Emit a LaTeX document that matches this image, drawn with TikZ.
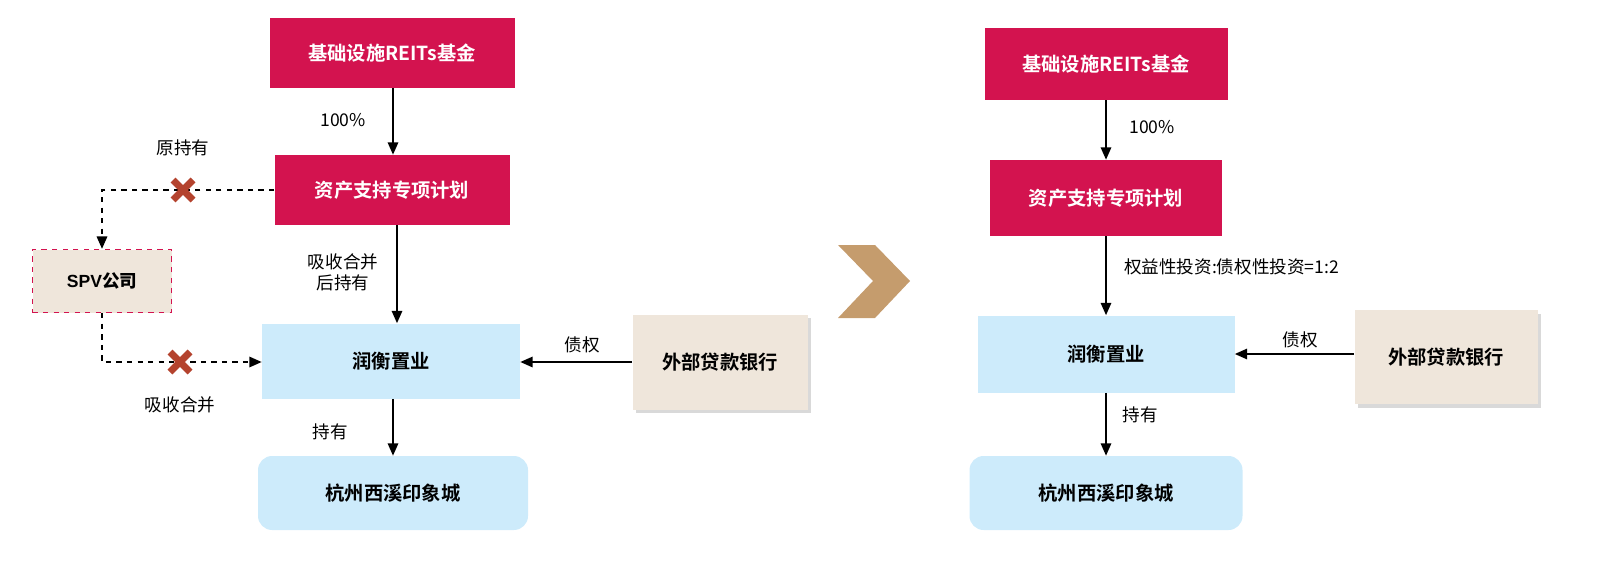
\documentclass[tikz,border=0pt]{standalone}
\usepackage{fontspec}
\setmainfont{Liberation Sans}
\newfontfamily\cjk{Noto Sans CJK SC}
\newfontfamily\cjkb{Noto Sans CJK SC Bold}
\usetikzlibrary{arrows.meta,shadows}
\definecolor{crim}{HTML}{D3134F}
\definecolor{lblue}{HTML}{CDEBFB}
\definecolor{beige}{HTML}{EFE6DB}
\definecolor{tan}{HTML}{C59C6D}
\definecolor{xred}{HTML}{B4432E}
\begin{document}
\begin{tikzpicture}[x=0.02cm,y=-0.02cm,
 red/.style={fill=crim,text=white,font=\cjkb\fontsize{11}{13}\selectfont,inner sep=0},
 blue/.style={fill=lblue,text=black,font=\cjkb\fontsize{11}{13}\selectfont,inner sep=0},
 bank/.style={fill=beige,text=black,font=\cjkb\fontsize{11}{13}\selectfont,inner sep=0,drop shadow={opacity=0.3,shadow xshift=2pt,shadow yshift=-2pt}},
 lab/.style={font=\cjk\fontsize{10}{12}\selectfont,align=center},
 arr/.style={-{Triangle[length=7pt,width=6pt]},line width=0.8pt},
 darr/.style={-{Triangle[length=7pt,width=6pt]},line width=0.8pt,dashed}]
\newcommand{\xmark}[2]{\draw[xred,line width=4pt] (#1-10,#2-10)--(#1+10,#2+10) (#1-10,#2+10)--(#1+10,#2-10);}
% left
\node[red,minimum width=245*0.02cm,minimum height=70*0.02cm] (r1) at (392,53) {基础设施REITs基金};
\node[red,minimum width=235*0.02cm,minimum height=70*0.02cm] (a1) at (392,190) {资产支持专项计划};
\node[fill=beige,draw=crim,dashed,line width=0.8pt,minimum width=139*0.02cm,minimum height=63*0.02cm,font=\bfseries\fontsize{10}{12}\selectfont,inner sep=0] (spv) at (102,281) {SPV{\cjkb 公司}};
\node[blue,minimum width=258*0.02cm,minimum height=75*0.02cm] (h1) at (391,361) {润衡置业};
\node[bank,minimum width=175*0.02cm,minimum height=95*0.02cm] (b1) at (720,362) {外部贷款银行};
\node[blue,rounded corners=8pt,minimum width=270*0.02cm,minimum height=74*0.02cm] (c1) at (393,493) {杭州西溪印象城};
\draw[arr] (r1.south -| 393,0) -- (a1.north -| 393,0);
\node[lab] (l1) at (343,120) {100\%};
\draw[arr] (a1.south -| 397,0) -- (h1.north -| 397,0);
\node[lab] (l2) at (343,272) {吸收合并\\后持有};
\draw[darr] (a1.west) -| (spv.north);
\xmark{183}{190}
\node[lab] (l3) at (183,148) {原持有};
\coordinate (k1) at (102,362);
\draw[darr] (spv.south) -- (k1) -- (h1.west |- k1);
\xmark{180}{362}
\node[lab] (l4) at (180,405) {吸收合并};
\draw[arr] (b1.west |- 0,362) -- (h1.east |- 0,362);
\node[lab] (l5) at (582,345) {债权};
\draw[arr] (h1.south -| 393,0) -- (c1.north -| 393,0);
\node[lab] (l6) at (330,432) {持有};
% big arrow
\fill[tan] (838,245) -- (875,245) -- (910,281) -- (875,318) -- (838,318) -- (873,281) -- cycle;
% right
\node[red,minimum width=243*0.02cm,minimum height=72*0.02cm] (r2) at (1106,64) {基础设施REITs基金};
\node[red,minimum width=232*0.02cm,minimum height=76*0.02cm] (a2) at (1106,198) {资产支持专项计划};
\node[blue,minimum width=257*0.02cm,minimum height=77*0.02cm] (h2) at (1106,354) {润衡置业};
\node[bank,minimum width=183*0.02cm,minimum height=94*0.02cm] (b2) at (1446,357) {外部贷款银行};
\node[blue,rounded corners=8pt,minimum width=273*0.02cm,minimum height=74*0.02cm] (c2) at (1106,493) {杭州西溪印象城};
\draw[arr] (r2) -- (a2);
\node[lab] (m1) at (1152,127) {100\%};
\draw[arr] (a2) -- (h2);
\node[lab,anchor=west] (m2) at (1118,267) {权益性投资:债权性投资=1:2};
\draw[arr] (b2.west |- 0,354) -- (h2.east |- 0,354);
\node[lab] (m3) at (1300,340) {债权};
\draw[arr] (h2) -- (c2);
\node[lab] (m4) at (1140,415) {持有};
\pgfresetboundingbox
\useasboundingbox (0,0) rectangle (1604,574);
\end{tikzpicture}
\end{document}
